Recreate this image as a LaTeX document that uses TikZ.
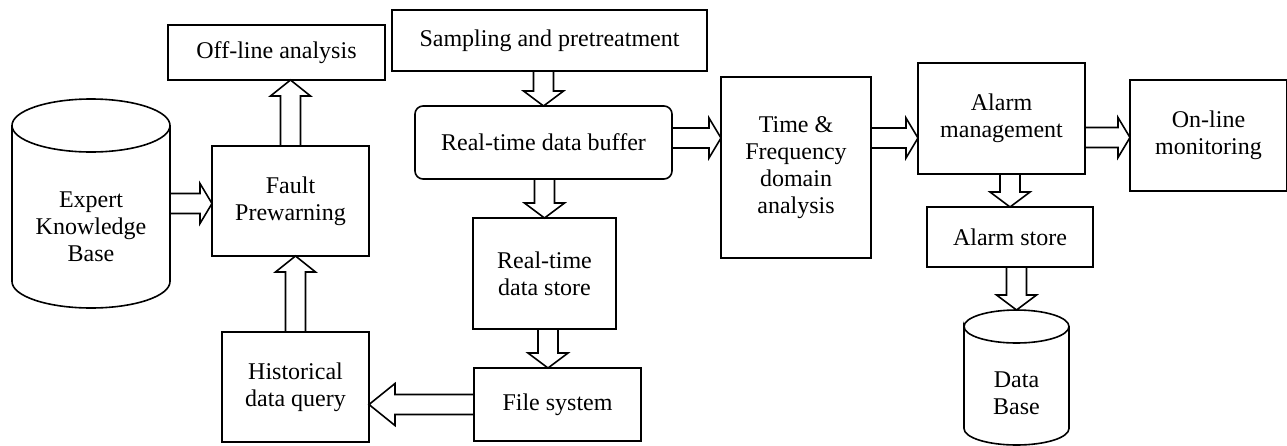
\documentclass[tikz,border=0pt]{standalone}
\usepackage{fontspec}
\setmainfont{Liberation Serif}
\usepackage{xcolor}
\usepackage{amsmath}
\usepackage{tikz}
\usetikzlibrary{calc}

% hollow block arrows: [head length]{from}{to}
\newcommand{\arrR}[3][12pt]{\draw[blockarrow] let \p1=#2, \p2=#3 in
	(\x1,\y1+10pt) -- (\x2-#1,\y1+10pt) -- (\x2-#1,\y1+20pt) -- (\x2,\y1) -- (\x2-#1,\y1-20pt) -- (\x2-#1,\y1-10pt) -- (\x1,\y1-10pt) -- cycle;}
\newcommand{\arrL}[3][12pt]{\draw[blockarrow] let \p1=#2, \p2=#3 in
	(\x1,\y1+10pt) -- (\x2+#1,\y1+10pt) -- (\x2+#1,\y1+21pt) -- (\x2,\y1) -- (\x2+#1,\y1-21pt) -- (\x2+#1,\y1-10pt) -- (\x1,\y1-10pt) -- cycle;}
\newcommand{\arrU}[3][16pt]{\draw[blockarrow] let \p1=#2, \p2=#3 in
	(\x1-10pt,\y1) -- (\x1-10pt,\y2-#1) -- (\x1-20pt,\y2-#1) -- (\x1,\y2) -- (\x1+20pt,\y2-#1) -- (\x1+10pt,\y2-#1) -- (\x1+10pt,\y1) -- cycle;}
\newcommand{\arrD}[3][15pt]{\draw[blockarrow] let \p1=#2, \p2=#3 in
	(\x1-10pt,\y1) -- (\x1-10pt,\y2+#1) -- (\x1-20pt,\y2+#1) -- (\x1,\y2) -- (\x1+20pt,\y2+#1) -- (\x1+10pt,\y2+#1) -- (\x1+10pt,\y1) -- cycle;}
% cylinder outline round a node: {node}{ellipse y radius}
\newcommand{\cyl}[2]{\draw[line width=1.6pt] let \p1=(#1.north west), \p2=(#1.south east), \n1={(\x2-\x1)/2} in
	(\x1,\y1-#2) arc[start angle=180, end angle=-180, x radius=\n1, y radius=#2]
	-- (\x1,\y2+#2) arc[start angle=180, end angle=360, x radius=\n1, y radius=#2] -- (\x2,\y1-#2);}

\begin{document}
\begin{tikzpicture}[x=1pt,y=-1pt,
	txt/.style={font=\fontsize{24}{27}\selectfont, align=center},
	box/.style={txt, draw, line width=1.6pt, inner sep=0pt, outer sep=0pt},
	db/.style={inner sep=0pt, outer sep=0pt},
	blockarrow/.style={line width=1.6pt, fill=white, line join=miter}]
	\useasboundingbox (0,0) rectangle (1287,445);

	% left part
	\node[db, minimum width=158pt, minimum height=209pt,
		label={[txt, yshift=-23.5pt]center:{Expert\\Knowledge\\Base}}] (ekb) at (91,203.5) {};
	\cyl{ekb}{26.5pt}
	\node[box, minimum width=217pt, minimum height=55pt] (off) at (276.5,52.5) {Off-line analysis};
	\node[box, minimum width=157pt, minimum height=110pt] (fault) at (290.5,201) {Fault\\Prewarning};
	\node[box, minimum width=147pt, minimum height=110pt] (hist) at (295.5,387) {Historical\\data query};

	% data path
	\node[box, minimum width=315pt, minimum height=61pt] (samp) at (549.5,40.5) {Sampling and pretreatment};
	\node[box, rounded corners=8pt, minimum width=257pt, minimum height=73pt] (buf) at (543.5,142.5) {Real-time data buffer};
	\node[box, minimum width=143pt, minimum height=111pt] (store) at (544.5,273.5) {Real-time\\data store};
	\node[box, minimum width=167pt, minimum height=73pt] (file) at (557.5,404.5) {File system};
	\node[box, minimum width=150pt, minimum height=181pt] (tf) at (796,167.5) {Time \&\\Frequency\\domain\\analysis};

	% alarms
	\node[box, minimum width=167pt, minimum height=111pt] (alarm) at (1001.5,118.5) {Alarm\\management};
	\node[box, minimum width=157pt, minimum height=111pt] (online) at (1208.5,135.5) {On-line\\monitoring};
	\node[box, minimum width=166pt, minimum height=60pt] (astore) at (1010,237) {Alarm store};
	\node[db, minimum width=105pt, minimum height=135pt,
		label={[txt, yshift=-15.5pt]center:{Data\\Base}}] (dbase) at (1016.5,377.5) {};
	\cyl{dbase}{16.5pt}

	% arrows
	\arrR{(ekb.east)}{(fault.west)}
	\arrU{(fault.north)}{(off.south)}
	\arrU{(hist.north)}{(fault.south)}
	\arrD{(samp.south -| buf.north)}{(buf.north)}
	\arrD{(buf.south -| store.north)}{(store.north)}
	\arrD{([xshift=3.5pt]store.south)}{(file.north)}
	\arrL[26pt]{(file.west)}{(hist.east)}
	\arrR{([yshift=4.5pt]buf.east)}{(tf.west)}
	\arrR{([yshift=29.5pt]tf.east)}{(alarm.west)}
	\arrR{([yshift=-19pt]alarm.east)}{(online.west)}
	\arrD{(alarm.south -| astore.north)}{(astore.north)}
	\arrD{(astore.south -| dbase.north)}{(dbase.north)}

\end{tikzpicture}
\end{document}
